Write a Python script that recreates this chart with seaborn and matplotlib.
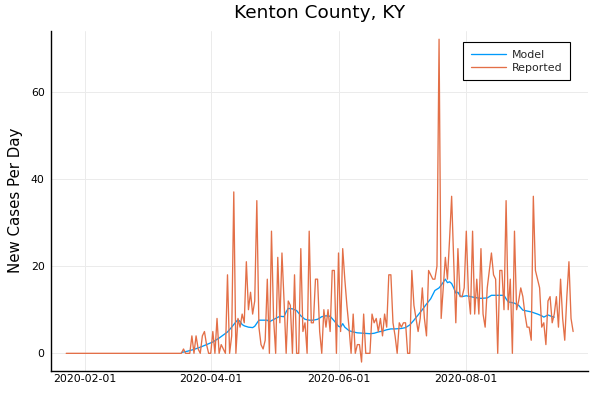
import numpy as np
import pandas as pd
import matplotlib
matplotlib.use("Agg")
import matplotlib.pyplot as plt
import matplotlib.dates as mdates
import seaborn as sns

# ---------------- data ----------------
title = "Kenton County, KY"
y_label = "New Cases Per Day"
series_names = ["Model", "Reported"]

reported_start = "2020-01-23"
reported_cases = [
    # 2020-01-23 .. 2020-03-17
    0, 0, 0, 0, 0, 0, 0, 0, 0, 0, 0, 0, 0, 0, 0, 0, 0, 0, 0, 0,
    0, 0, 0, 0, 0, 0, 0, 0, 0, 0, 0, 0, 0, 0, 0, 0, 0, 0, 0, 0,
    0, 0, 0, 0, 0, 0, 0, 0, 0, 0, 0, 0, 0, 0, 0,
    # 2020-03-18 ..
    0, 1, 0, 0, 0, 4, 0, 4, 1, 0, 4, 5, 2, 0,
    0, 5, 0, 8, 0, 2, 1, 0, 18, 0, 4, 37, 0, 8, 6, 9, 7, 21, 10, 14,
    9, 12, 35, 6, 2, 1, 3, 17, 0, 28, 8, 0, 22, 7, 23, 12, 0, 12, 11, 0,
    18, 0, 0, 24, 5, 7, 0, 28, 7, 7, 17, 17, 5, 0, 10, 6, 10, 5, 19, 19,
    0, 23, 5, 24, 17, 11, 6, 0, 9, 0, 2, 2, -2, 9, 0, 0, 0, 9, 7, 8,
    5, 8, 4, 9, 6, 18, 18, 7, 4, 0, 7, 6, 7, 7, 0, 0, 19, 11, 8, 5,
    8, 15, 8, 4, 19, 18, 17, 17, 20, 72, 8, 15, 22, 17, 26, 36, 21, 7, 24, 13,
    13, 15, 28, 14, 9, 28, 9, 17, 9, 24, 9, 6, 15, 19, 23, 18, 17, 0, 19, 19,
    10, 35, 10, 17, 0, 28, 10, 12, 15, 13, 9, 6, 6, 3, 36, 19, 17, 15, 6, 7,
    2, 12, 13, 7, 9, 13, 6, 17, 8, 3, 13, 21, 8, 5,
]

model_reference_date = "2020-04-01"
model_days = [
    -14, -11, -8, -5, -2, 1, 4, 6, 8, 10, 12, 13, 14, 15, 16, 18, 20, 21, 23, 25,
    27, 28, 29, 31, 33, 35, 36, 37, 39, 41, 42, 43, 45, 47, 49, 51, 53, 55, 57, 59,
    61, 62, 63, 64, 66, 68, 70, 73, 76, 78, 80, 82, 84, 86, 88, 91, 93, 95, 97, 99,
    101, 103, 105, 107, 109, 110, 111, 112, 113, 114, 115, 116, 117, 118, 119, 120, 122, 124, 126, 129,
    132, 134, 136, 138, 140, 141, 142, 145, 147, 149, 151, 153, 156, 158, 159, 161, 163, 164,
]
model_values = [
    0.2, 0.5, 0.9, 1.4, 2.0, 2.6, 3.5, 4.2, 4.9, 6.0, 7.2, 7.7, 7.3, 6.6, 6.3, 6.0, 5.9, 6.2, 7.6, 7.6,
    7.6, 7.2, 7.5, 8.0, 8.5, 8.4, 9.5, 10.3, 10.2, 9.8, 9.2, 8.6, 7.8, 7.6, 7.6, 7.8, 8.4, 8.6, 8.5, 7.4,
    6.2, 6.0, 6.8, 6.0, 5.2, 4.9, 4.7, 4.6, 4.5, 4.6, 4.9, 5.1, 5.4, 5.6, 5.6, 5.7, 5.9, 6.5, 7.6, 8.8,
    10.0, 11.3, 12.5, 14.4, 15.0, 15.6, 16.3, 17.0, 16.2, 16.4, 16.0, 15.0, 13.8, 14.0, 13.2, 13.0, 13.2, 13.0, 12.8, 12.6,
    12.7, 13.3, 13.3, 13.3, 13.3, 12.5, 11.8, 11.5, 11.0, 9.9, 9.7, 9.5, 9.0, 8.6, 8.3, 8.8, 8.4, 8.3,
]

x_tick_dates = ["2020-02-01", "2020-04-01", "2020-06-01", "2020-08-01"]
y_tick_values = [0, 20, 40, 60]

# ---------------- frames ----------------
reported_df = pd.DataFrame({
    "date": pd.date_range(reported_start, periods=len(reported_cases), freq="D"),
    "cases": reported_cases,
})
model_df = pd.DataFrame({
    "date": pd.Timestamp(model_reference_date) + pd.to_timedelta(model_days, unit="D"),
    "cases": model_values,
})

# ---------------- style ----------------
sns.set_theme(style="white")
plt.rcParams["font.family"] = ["DejaVu Sans"]

blue = "#009AFA"
orange = "#E36F47"

fig = plt.figure(figsize=(6, 4), dpi=100)
ax = fig.add_axes([0.0845, 0.0725, 0.8955, 0.85125])

sns.lineplot(data=model_df, x="date", y="cases", color=blue, linewidth=0.95,
             label=series_names[0], estimator=None, ax=ax)
sns.lineplot(data=reported_df, x="date", y="cases", color=orange, linewidth=0.95,
             label=series_names[1], estimator=None, ax=ax)

ref = pd.Timestamp(model_reference_date)
ax.set_xlim(ref - pd.Timedelta(days=76.4), ref + pd.Timedelta(days=180.1))
ax.set_ylim(-4.05, 74.0)

ax.set_xticks([pd.Timestamp(d) for d in x_tick_dates])
ax.xaxis.set_major_formatter(mdates.DateFormatter("%Y-%m-%d"))
ax.set_yticks(y_tick_values)

ax.grid(True, color="#ebebeb", linewidth=0.7)
ax.set_axisbelow(True)

for side in ["top", "right"]:
    ax.spines[side].set_visible(False)
for side in ["left", "bottom"]:
    ax.spines[side].set_color("black")
    ax.spines[side].set_linewidth(1.0)

ax.tick_params(axis="x", direction="in", length=3, width=0.8, colors="black",
               labelsize=7.8, pad=2.2)
ax.tick_params(axis="y", direction="in", length=4.7, width=0.8, colors="black",
               labelsize=7.8, pad=4.3)

ax.set_xlabel("")
ax.set_ylabel(y_label, fontsize=10.8, color="black", va="center")
ax.yaxis.set_label_coords(-0.0646, 0.5)
ax.set_title(title, fontsize=13.3, color="black", pad=8.8)

leg = ax.legend(loc="upper right", bbox_to_anchor=(0.9665, 0.9653), fontsize=7.9,
                frameon=True, fancybox=False, framealpha=1.0, edgecolor="black",
                handlelength=3.2, handletextpad=0.55, borderpad=0.7,
                labelspacing=0.25, borderaxespad=0.0)
leg.get_frame().set_linewidth(0.8)

fig.savefig("out.png", dpi=100)
